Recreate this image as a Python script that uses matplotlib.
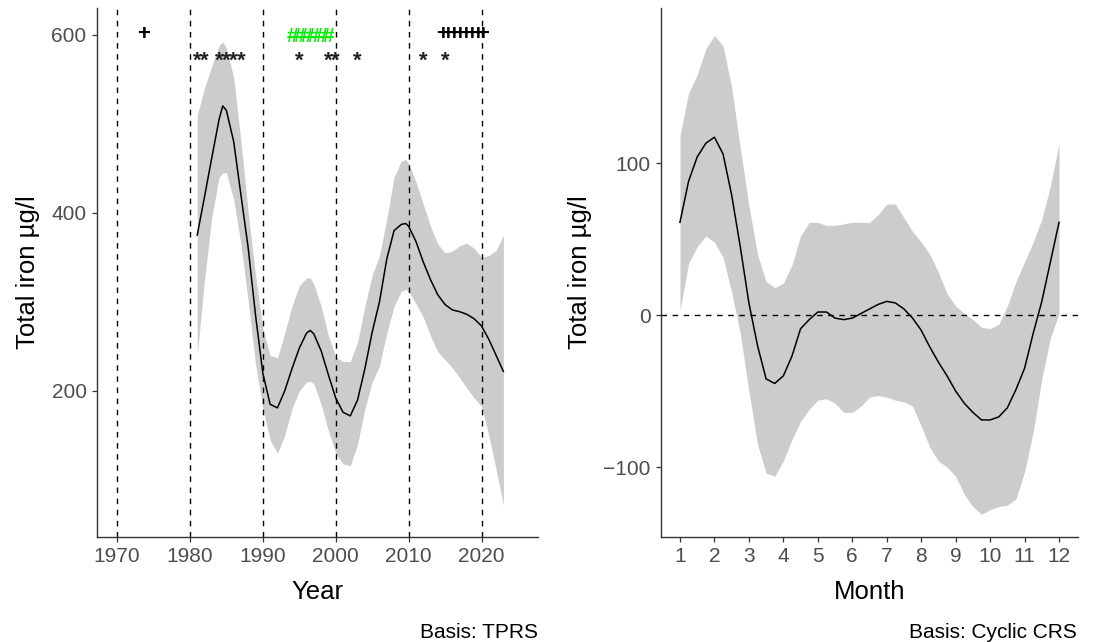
import matplotlib
matplotlib.use('Agg')
import matplotlib.pyplot as plt

plt.rcParams['font.family'] = ['Liberation Sans', 'DejaVu Sans']

# trend fit (TPRS) by year
years = [1981, 1982, 1983, 1984, 1984.5, 1985, 1986, 1987, 1988, 1989, 1990,
         1991, 1992, 1993, 1994, 1995, 1996, 1996.5, 1997, 1998, 1999, 2000,
         2001, 2002, 2003, 2004, 2005, 2006, 2007, 2008, 2009, 2009.6, 2010,
         2011, 2012, 2013, 2014, 2015, 2016, 2017, 2018, 2019, 2020, 2021,
         2022, 2023]
fit = [375, 418, 462, 505, 520, 515, 480, 420, 360, 285, 220,
       185, 181, 200, 225, 248, 265, 268, 264, 245, 218, 192,
       176, 172, 190, 225, 266, 300, 348, 380, 387, 388, 385,
       368, 345, 325, 308, 297, 291, 289, 286, 281, 273, 258,
       240, 222]
upper = [510, 540, 565, 588, 592, 585, 552, 480, 400, 330, 270,
         240, 237, 265, 295, 318, 327, 327, 320, 295, 262, 238,
         233, 233, 255, 295, 330, 352, 393, 440, 458, 460, 455,
         435, 410, 385, 365, 355, 357, 363, 366, 360, 350, 352,
         358, 375]
lower = [240, 325, 395, 440, 445, 445, 415, 365, 300, 230, 180,
         145, 130, 150, 180, 200, 210, 211, 208, 185, 155, 130,
         118, 116, 140, 180, 210, 228, 265, 295, 312, 314, 312,
         298, 283, 262, 244, 235, 226, 215, 203, 192, 183, 150,
         112, 72]

# marks at top of left panel
plus_years = [1973.7, 2014.6, 2015.4, 2016.2, 2017.0, 2017.8, 2018.6, 2019.4, 2020.2]
hash_years = [1994, 1995, 1996, 1997, 1998, 1999]
star_years = [1981, 1982, 1984, 1985, 1986, 1987, 1995, 1999, 2000, 2003, 2012, 2015]
decades = [1970, 1980, 1990, 2000, 2010, 2020]

# seasonal fit (cyclic CRS) by month
months = [1, 1.25, 1.5, 1.75, 2, 2.25, 2.5, 2.75, 3, 3.25, 3.5, 3.75, 4, 4.25,
          4.5, 4.75, 5, 5.25, 5.5, 5.75, 6, 6.25, 6.5, 6.75, 7, 7.25, 7.5,
          7.75, 8, 8.25, 8.5, 8.75, 9, 9.25, 9.5, 9.75, 10, 10.25, 10.5,
          10.75, 11, 11.25, 11.5, 11.75, 12]
season = [61, 88, 104, 113, 117, 106, 79, 45, 8, -20, -42, -45, -40, -27,
          -9, -3, 2, 2, -2, -3, -2, 1, 4, 7, 9, 8, 4,
          -2, -10, -21, -31, -40, -50, -58, -64, -69, -69, -67, -61,
          -49, -35, -12, 9, 35, 61]
s_upper = [118, 146, 158, 175, 184, 177, 150, 110, 72, 40, 22, 18, 21, 33,
           52, 61, 61, 59, 59, 60, 61, 61, 61, 66, 73, 73, 64,
           55, 48, 40, 28, 14, 6, 1, -3, -8, -9, -6, 6,
           22, 35, 48, 63, 85, 113]
s_lower = [3, 34, 45, 52, 48, 38, 15, -12, -50, -85, -104, -106, -96, -82,
           -70, -62, -56, -55, -58, -64, -64, -60, -54, -53, -54, -56, -57,
           -60, -73, -87, -96, -100, -106, -118, -126, -131, -128, -126, -125,
           -121, -103, -77, -42, -15, 1]

W, H = 1104, 642
fig = plt.figure(figsize=(W / 100, H / 100), dpi=100)
ax1 = fig.add_axes([97 / W, 1 - 537 / H, 441 / W, 529 / H])
ax2 = fig.add_axes([661 / W, 1 - 537 / H, 417 / W, 529 / H])

band = '#CCCCCC'
tick_col = '#4D4D4D'


def style(ax):
    for s in ['top', 'right']:
        ax.spines[s].set_visible(False)
    for s in ['left', 'bottom']:
        ax.spines[s].set_color('#333333')
        ax.spines[s].set_linewidth(1.0)
    ax.tick_params(colors='#333333', labelcolor=tick_col, labelsize=15,
                   length=3.5, width=0.9, pad=4)


# left panel
ax1.fill_between(years, lower, upper, color=band, linewidth=0)
ax1.plot(years, fit, color='black', linewidth=1.1)
for d in decades:
    ax1.axvline(d, color='black', linestyle=(0, (4, 4)), linewidth=1.0)
for yr in plus_years:
    ax1.text(yr, 600, '+', ha='center', va='center', fontsize=16,
             fontweight='bold', color='black')
for yr in hash_years:
    ax1.text(yr, 598, '#', ha='center', va='center', fontsize=15,
             fontweight='bold', color='#00EE00')
for yr in star_years:
    ax1.text(yr, 570, '*', ha='center', va='center', fontsize=16,
             fontweight='bold', color='#222222')
ax1.set_xlim(1967.25, 2027.75)
ax1.set_ylim(36, 630)
ax1.set_xticks(decades)
ax1.set_yticks([200, 400, 600])
ax1.set_xlabel('Year', fontsize=18.5, labelpad=10)
ax1.set_ylabel('Total iron µg/l', fontsize=18.5, labelpad=8)
style(ax1)

# right panel
ax2.fill_between(months, s_lower, s_upper, color=band, linewidth=0)
ax2.plot(months, season, color='black', linewidth=1.1)
ax2.axhline(0, color='black', linestyle=(0, (4, 4)), linewidth=1.0)
ax2.set_xlim(0.45, 12.55)
ax2.set_ylim(-146, 202)
ax2.set_xticks(range(1, 13))
ax2.set_yticks([-100, 0, 100])
ax2.set_xlabel('Month', fontsize=18.5, labelpad=10)
ax2.set_ylabel('Total iron µg/l', fontsize=18.5, labelpad=8)
style(ax2)

fig.text(538 / W, 1 - 638 / H, 'Basis: TPRS', ha='right', va='baseline', fontsize=15)
fig.text(1077 / W, 1 - 638 / H, 'Basis: Cyclic CRS', ha='right', va='baseline', fontsize=15)

fig.savefig('out.png', dpi=100)
